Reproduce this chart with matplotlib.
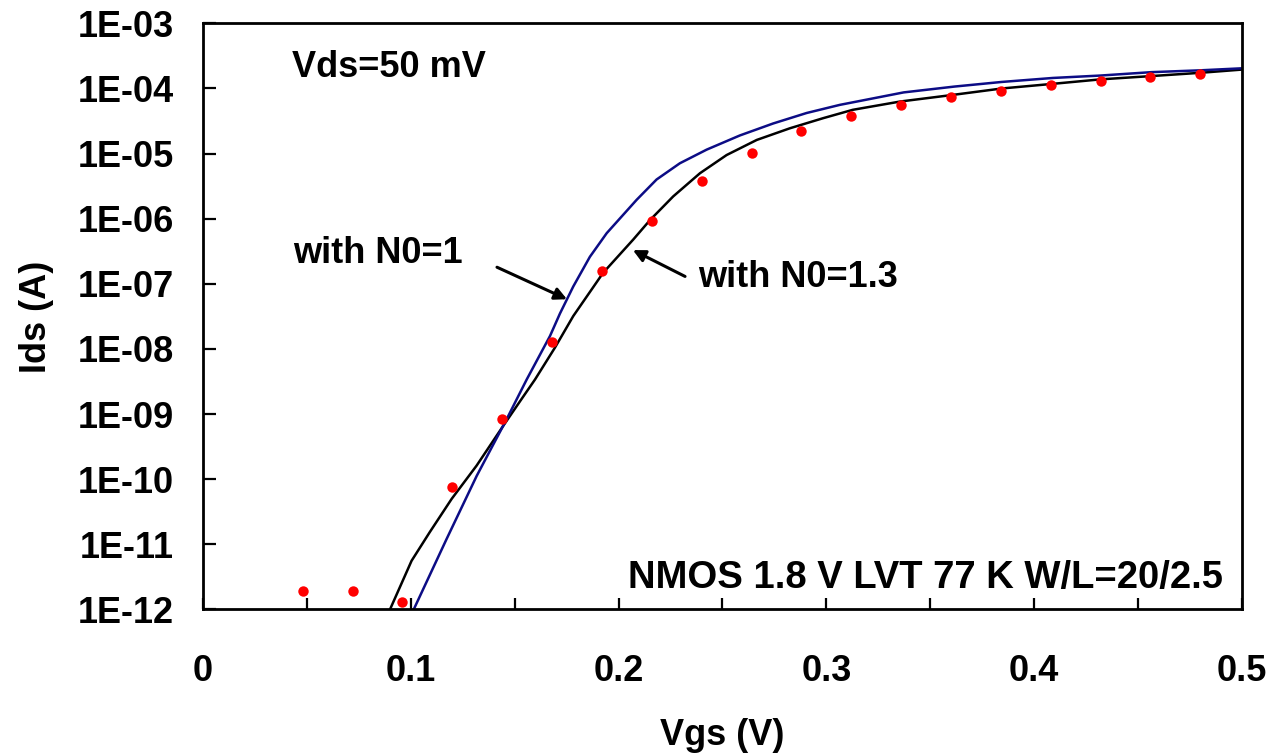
import numpy as np
import matplotlib
matplotlib.use('Agg')
import matplotlib.pyplot as plt
from matplotlib.ticker import FixedLocator, FuncFormatter, MultipleLocator, NullLocator

plt.rcParams['font.family'] = ['Liberation Sans', 'DejaVu Sans']
plt.rcParams['font.weight'] = 'bold'

# Datos medidos (puntos rojos)
vgs_meas = [0.048, 0.072, 0.096, 0.120, 0.144, 0.168, 0.192, 0.216, 0.240, 0.264,
            0.288, 0.312, 0.336, 0.360, 0.384, 0.408, 0.432, 0.456, 0.480]
ids_meas = [1.95e-12, 1.95e-12, 1.3e-12, 7.6e-11, 8.3e-10, 1.26e-8, 1.55e-7, 9.3e-7,
            3.8e-6, 1.02e-5, 2.24e-5, 3.8e-5, 5.5e-5, 7.4e-5, 9.1e-5, 1.12e-4,
            1.29e-4, 1.48e-4, 1.66e-4]

# Modelo con N0 = 1.3 (linea negra)
vgs_n13 = [0.090, 0.1004, 0.1092, 0.1197, 0.1317, 0.1445, 0.1533, 0.1598, 0.1694,
           0.1782, 0.1926, 0.2071, 0.2151, 0.2263, 0.2392, 0.2520, 0.2665, 0.2825,
           0.2985, 0.3127, 0.3355, 0.360, 0.3845, 0.408, 0.432, 0.4564, 0.480, 0.500]
ids_n13 = [1.0e-12, 5.6e-12, 1.55e-11, 5.0e-11, 1.62e-10, 6.6e-10, 1.7e-9, 3.4e-9,
           1.05e-8, 3.2e-8, 1.48e-7, 4.8e-7, 9.5e-7, 2.2e-6, 5.0e-6, 9.5e-6, 1.62e-5,
           2.45e-5, 3.5e-5, 4.7e-5, 6.3e-5, 7.9e-5, 1.0e-4, 1.17e-4, 1.38e-4,
           1.55e-4, 1.74e-4, 1.95e-4]

# Modelo con N0 = 1 (linea azul)
vgs_n1 = [0.100, 0.1172, 0.1317, 0.1461, 0.1558, 0.1670, 0.1718, 0.1782, 0.1862,
          0.1943, 0.2087, 0.2183, 0.2295, 0.2424, 0.2584, 0.2744, 0.2905, 0.3065,
          0.3372, 0.3617, 0.3845, 0.409, 0.432, 0.4564, 0.480, 0.500]
ids_n1 = [8.0e-13, 1.2e-11, 1.12e-10, 8.3e-10, 3.4e-9, 1.58e-8, 3.5e-8, 9.1e-8,
          2.6e-7, 6.0e-7, 1.95e-6, 4.0e-6, 7.1e-6, 1.15e-5, 1.9e-5, 2.9e-5, 4.2e-5,
          5.6e-5, 8.7e-5, 1.07e-4, 1.26e-4, 1.45e-4, 1.58e-4, 1.78e-4, 1.9e-4,
          2.04e-4]

y_exps = list(range(-12, -2))

fig = plt.figure(figsize=(12.67, 7.53), dpi=100)
ax = fig.add_axes([0.1602, 0.1906, 0.8200, 0.7784])

ax.plot(vgs_n13, ids_n13, color='black', lw=1.8)
ax.plot(vgs_n1, ids_n1, color='#0c0c85', lw=1.8)
ax.plot(vgs_meas, ids_meas, 'o', color='#ff0000', markersize=7.5, markeredgewidth=0)

ax.set_yscale('log')
ax.set_xlim(0, 0.5)
ax.set_ylim(1e-12, 1e-3)

ax.yaxis.set_major_locator(FixedLocator([10.0 ** e for e in y_exps]))
ax.yaxis.set_minor_locator(NullLocator())
ax.yaxis.set_major_formatter(FuncFormatter(lambda v, p: '1E-%02d' % round(-np.log10(v))))
ax.xaxis.set_major_locator(MultipleLocator(0.1))
ax.xaxis.set_minor_locator(MultipleLocator(0.05))
ax.xaxis.set_major_formatter(FuncFormatter(lambda v, p: '0' if abs(v) < 1e-9 else '%.1f' % v))

ax.tick_params(axis='y', which='both', direction='in', length=9, width=1.6,
               labelsize=26, pad=21, right=False)
ax.tick_params(axis='x', which='both', direction='in', length=8, width=1.6,
               labelsize=26, pad=32, top=False)
for s in ax.spines.values():
    s.set_linewidth(2)

ax.set_xlabel('Vgs (V)', fontsize=26, fontweight='bold', labelpad=21)
ax.set_ylabel('Ids (A)', fontsize=26, fontweight='bold', labelpad=17)

ax.text(0.0857, 0.909, 'Vds=50 mV', transform=ax.transAxes, fontsize=26, va='baseline')
ax.text(0.0866, 0.591, 'with N0=1', transform=ax.transAxes, fontsize=26, va='baseline')
ax.text(0.4764, 0.5507, 'with N0=1.3', transform=ax.transAxes, fontsize=26, va='baseline')
ax.text(0.4094, 0.0367, 'NMOS 1.8 V LVT 77 K W/L=20/2.5', transform=ax.transAxes,
        fontsize=27.5, va='baseline')

arrow = dict(arrowstyle='-|>', color='black', lw=2.2, mutation_scale=18,
             shrinkA=0, shrinkB=0)
ax.annotate('', xy=(0.1752, 5.8e-8), xytext=(0.1415, 1.8e-7), arrowprops=arrow)
ax.annotate('', xy=(0.2069, 3.3e-7), xytext=(0.232, 1.3e-7), arrowprops=arrow)

fig.savefig('out.png', dpi=100)
